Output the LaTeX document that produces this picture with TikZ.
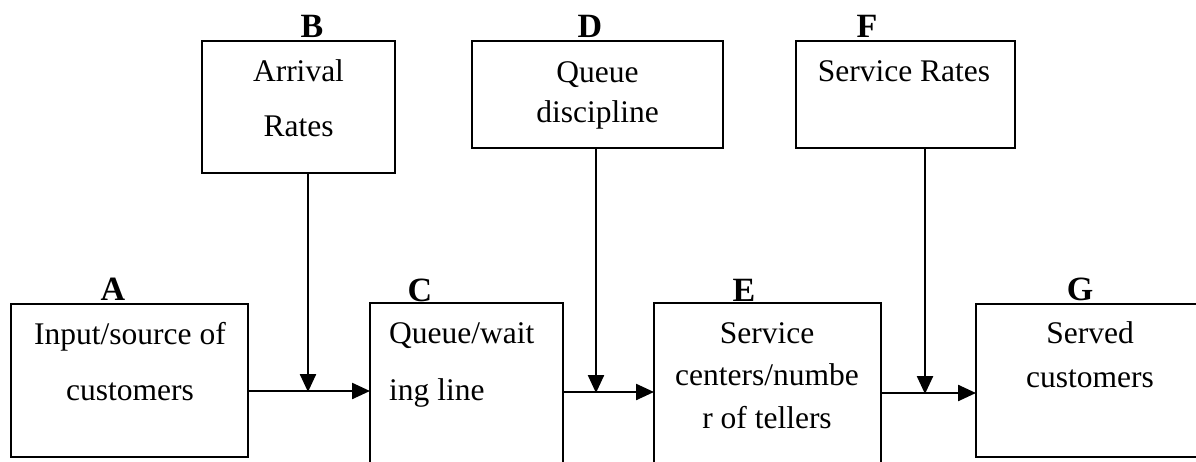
\documentclass[tikz,border=0pt]{standalone}
\usepackage{fontspec}
\setmainfont{Liberation Serif}
\usetikzlibrary{arrows.meta}
\begin{document}
\begin{tikzpicture}[x=1pt,y=-1pt,
  box/.style={draw, line width=2pt, rectangle, inner sep=0pt, outer sep=0pt, anchor=north west},
  txt/.style={inner sep=0pt, anchor=base, font=\fontsize{31.5}{38}\selectfont},
  ltxt/.style={txt, anchor=base west},
  lbl/.style={inner sep=0pt, anchor=base, font=\fontsize{34}{40}\selectfont\bfseries},
  arr/.style={line width=2.4pt, -{Triangle[length=18pt,width=16pt]}}]
\useasboundingbox (0,0) rectangle (1196,461);
\clip (0,0) rectangle (1196,461);

% boxes
\node[box, minimum width=237pt, minimum height=153pt] (A) at (11,304) {};
\node[box, minimum width=193pt, minimum height=132pt] (B) at (202,41) {};
\node[box, minimum width=193pt, minimum height=175pt] (C) at (370,303) {};
\node[box, minimum width=251pt, minimum height=107pt] (D) at (472,41) {};
\node[box, minimum width=227pt, minimum height=175pt] (E) at (654,303) {};
\node[box, minimum width=219pt, minimum height=107pt] (F) at (796,41) {};
\node[box, minimum width=227pt, minimum height=153pt] (G) at (976,304) {};

% letters
\node[lbl] (LA) at (113,300) {A};
\node[lbl] (LB) at (312,37) {B};
\node[lbl] (LC) at (420,301) {C};
\node[lbl] (LD) at (590,37) {D};
\node[lbl] (LE) at (744,301) {E};
\node[lbl] (LF) at (867,37) {F};
\node[lbl] (LG) at (1080,300) {G};

% box texts
\node[txt] (A1) at (130,344) {Input/source of};
\node[txt] (A2) at (130,400) {customers};
\node[txt] (B1) at (298.5,81) {Arrival};
\node[txt] (B2) at (298.5,136) {Rates};
\node[ltxt] (C1) at (389,343) {Queue/wait};
\node[ltxt] (C2) at (389,400) {ing line};
\node[txt] (D1) at (597.5,82) {Queue};
\node[txt] (D2) at (597.5,122) {discipline};
\node[txt] (E1) at (767,343) {Service};
\node[txt] (E2) at (767,385) {centers/numbe};
\node[txt] (E3) at (767,428) {r of tellers};
\node[txt] (F1) at (904,81) {Service Rates};
\node[txt] (G1) at (1090,343) {Served};
\node[txt] (G2) at (1090,387) {customers};

% junctions on the flow lines
\coordinate (jB) at (308,391);
\coordinate (jD) at (596,392);
\coordinate (jF) at (925,393);

% flow arrows
\draw[arr] (A.east |- jB) -- (C.west |- jB);
\draw[arr] (C.east |- jD) -- (E.west |- jD);
\draw[arr] (E.east |- jF) -- (G.west |- jF);

% influence arrows
\draw[arr] (jB |- B.south) -- ([yshift=-1pt]jB);
\draw[arr] (jD |- D.south) -- ([yshift=-1pt]jD);
\draw[arr] (jF |- F.south) -- ([yshift=-1pt]jF);
\end{tikzpicture}
\end{document}
